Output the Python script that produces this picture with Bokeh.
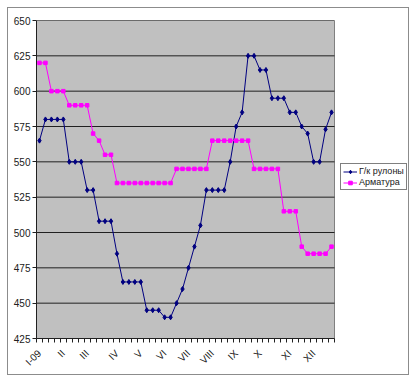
from bokeh.plotting import figure
from bokeh.models import Range1d, FixedTicker, Legend, LegendItem
from bokeh.embed import file_html
from bokeh.resources import INLINE
import math

# weekly prices, 50 weeks of 2009
hr_coils = [565, 580, 580, 580, 580, 550, 550, 550, 530, 530,
            508, 508, 508, 485, 465, 465, 465, 465, 445, 445,
            445, 440, 440, 450, 460, 475, 490, 505, 530, 530,
            530, 530, 550, 575, 585, 625, 625, 615, 615, 595,
            595, 595, 585, 585, 575, 570, 550, 550, 573, 585]
rebar = [620, 620, 600, 600, 600, 590, 590, 590, 590, 570,
         565, 555, 555, 535, 535, 535, 535, 535, 535, 535,
         535, 535, 535, 545, 545, 545, 545, 545, 545, 565,
         565, 565, 565, 565, 565, 565, 545, 545, 545, 545,
         545, 515, 515, 515, 490, 485, 485, 485, 485, 490]
month_labels = ["I-09", "II", "III", "IV", "V", "VI", "VII", "VIII", "IX", "X", "XI", "XII"]
month_week = [0, 4, 8, 13, 17, 21, 25, 29, 33, 37, 42, 46]
y_ticks = [425, 450, 475, 500, 525, 550, 575, 600, 625, 650]
series_names = ["Г/к рулоны", "Арматура"]

n = len(hr_coils)
xs = [i + 0.5 for i in range(n)]

W, H = 400, 366
left_b, top_b, bottom_b = 28, 12, 33
plot_w = 298                      # width of the grey plot area
frame_w = W - left_b
x_end = n * frame_w / plot_w      # extra room on the right for the legend

p = figure(width=W, height=H, output_backend="svg", toolbar_location=None,
           x_range=Range1d(0, x_end), y_range=Range1d(y_ticks[0], y_ticks[-1]),
           min_border_left=left_b, min_border_top=top_b, min_border_right=0,
           min_border_bottom=bottom_b)
p.styles = {"outline": "1px solid #8c8c8c", "position": "relative", "left": "8px", "top": "8px"}
p.background_fill_color = "white"
p.border_fill_color = "white"
p.outline_line_color = None
p.xgrid.visible = False
p.ygrid.visible = False

# grey plot area and horizontal gridlines
p.quad(left=[0], right=[n], bottom=[y_ticks[0]], top=[y_ticks[-1]],
       fill_color="#C0C0C0", line_color="#808080", line_width=1)
p.segment(x0=[0] * len(y_ticks), x1=[n] * len(y_ticks), y0=y_ticks, y1=y_ticks,
          line_color="#202020", line_width=1)

font = "Liberation Sans"
p.yaxis.ticker = FixedTicker(ticks=y_ticks)
p.yaxis.axis_line_color = "#202020"
p.yaxis.major_tick_line_color = "#202020"
p.yaxis.major_tick_out = 4
p.yaxis.major_tick_in = 0
p.yaxis.minor_tick_line_color = None
p.yaxis.major_label_text_font = font
p.yaxis.major_label_text_font_size = "10px"
p.yaxis.major_label_text_color = "#202020"
p.yaxis.major_label_standoff = 2

p.xaxis.bounds = (0, n)
p.xaxis.ticker = FixedTicker(ticks=[w + 0.5 for w in month_week],
                             minor_ticks=list(range(n + 1)))
p.xaxis.major_label_overrides = {w + 0.5: lab for w, lab in zip(month_week, month_labels)}
p.xaxis.major_label_orientation = math.pi / 4
p.xaxis.axis_line_color = "#202020"
p.xaxis.major_tick_line_color = None
p.xaxis.minor_tick_line_color = "#202020"
p.xaxis.minor_tick_out = 4
p.xaxis.minor_tick_in = 0
p.xaxis.major_label_text_font = font
p.xaxis.major_label_text_font_size = "10px"
p.xaxis.major_label_text_color = "#202020"
p.xaxis.major_label_standoff = 7

l1 = p.line(xs, hr_coils, line_color="#000080", line_width=1)
m1 = p.scatter(xs, hr_coils, marker="diamond", size=5, fill_color="#000080", line_color="#000080")
l2 = p.line(xs, rebar, line_color="#FF00FF", line_width=1)
m2 = p.scatter(xs, rebar, marker="square", size=3.5, fill_color="#FF00FF", line_color="#FF00FF")

legend = Legend(items=[LegendItem(label=series_names[0], renderers=[l1, m1]),
                       LegendItem(label=series_names[1], renderers=[l2, m2])],
                location=(304, 148))
legend.border_line_color = "black"
legend.border_line_width = 1
legend.background_fill_color = "white"
legend.background_fill_alpha = 1
legend.label_text_font = font
legend.label_text_font_size = "9px"
legend.label_text_color = "#202020"
legend.glyph_width = 14
legend.glyph_height = 9
legend.label_height = 9
legend.label_standoff = 2
legend.spacing = 1
legend.padding = 2
legend.margin = 0
p.add_layout(legend, "center")

open("out.html", "w").write(file_html(p, INLINE))
